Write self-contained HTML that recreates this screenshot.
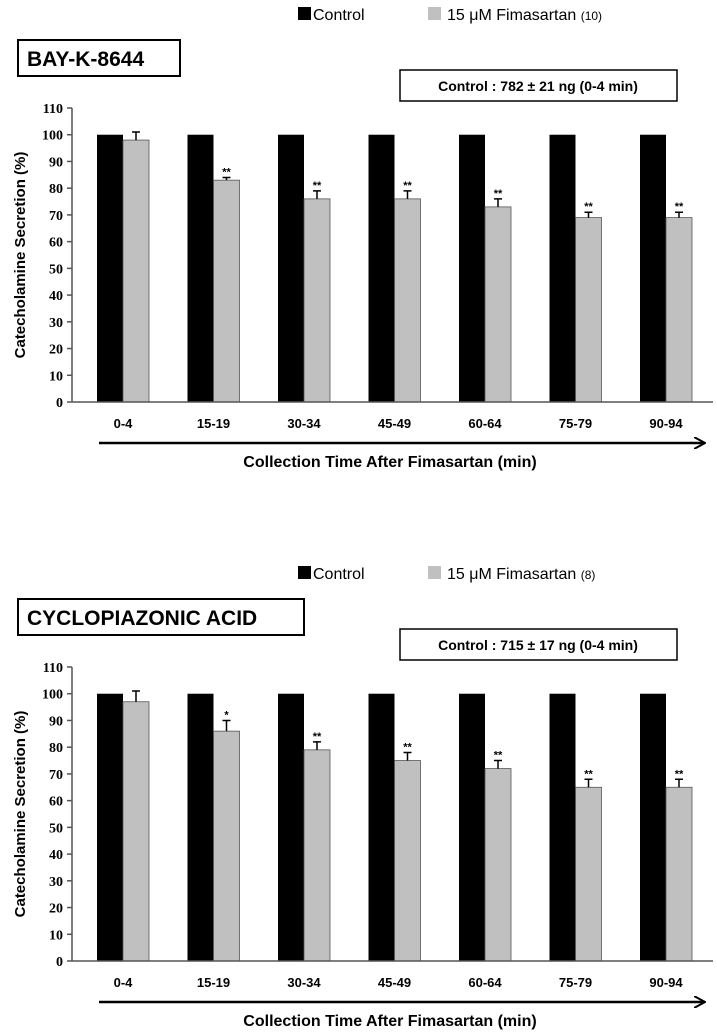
<!DOCTYPE html>
<html><head><meta charset="utf-8"><style>
html,body{margin:0;padding:0;background:#fff}
svg{display:block;font-family:"Liberation Sans",Arial,sans-serif}
</style></head><body>
<svg id="chart" width="717" height="1035" viewBox="0 0 717 1035">
<defs><marker id="arr" markerWidth="12" markerHeight="12" refX="10" refY="6" orient="auto" markerUnits="userSpaceOnUse"><path d="M0,0 L11,6 L0,12" fill="none" stroke="#000" stroke-width="2"/></marker></defs>
</svg>
<script>
const categories=["0-4","15-19","30-34","45-49","60-64","75-79","90-94"];
const controlTop=[100,100,100,100,100,100,100];
const fimaTop=[98,83,76,76,73,69,69];
const errTop=[3,1,3,3,3,2,2];
const starsTop=["","**","**","**","**","**","**"];
const controlBot=[100,100,100,100,100,100,100];
const fimaBot=[97,86,79,75,72,65,65];
const errBot=[4,4,3,3,3,3,3];
const starsBot=["","*","**","**","**","**","**"];
const yTicks=[0,10,20,30,40,50,60,70,80,90,100,110];

const svg=document.getElementById('chart');
const NS='http://www.w3.org/2000/svg';
function mk(tag,attrs,parent,text){const e=document.createElementNS(NS,tag);for(const k in attrs)e.setAttribute(k,attrs[k]);if(text!==undefined)e.textContent=text;(parent||svg).appendChild(e);return e;}

function panel(off,title,n,ctrlText,ctrl,fima,err,stars,pname){
  const g=mk('g',{});
  
  
  const y=v=>off+402-v*(294/110);
  const x0=97,step=90.5,bw=26;
  const lg=mk('g',{},g);
  
  
  const r1=mk('rect',{x:298,y:off+7,width:13,height:13,fill:'#000'},lg);
  
  
  const t1=mk('text',{x:313,y:off+20,'font-size':16},lg,'Control');
  
  
  const r2=mk('rect',{x:428,y:off+7,width:13,height:13,fill:'#c0c0c0'},lg);
  
  
  const t2=mk('text',{x:447,y:off+20,'font-size':16},lg,'15 μM Fimasartan ');
  
  
  mk('tspan',{'font-size':12},t2,'('+n+')');
  const tb=mk('rect',{x:18,y:off+40,width:title.length>12?286:162,height:36,fill:'#fff',stroke:'#000','stroke-width':2},g);
  
  
  const tt=mk('text',{x:27,y:off+66,'font-size':21,'font-weight':'bold'},g,title);
  
  
  const cb=mk('rect',{x:400,y:off+70,width:277,height:31,fill:'#fff',stroke:'#000','stroke-width':1.5},g);
  
  
  const ct=mk('text',{x:538,y:off+91,'font-size':14,'font-weight':'bold','text-anchor':'middle'},g,ctrlText);
  
  
  const ya=mk('line',{x1:72,y1:y(110),x2:72,y2:y(0),stroke:'#555','stroke-width':1.5},g);
  
  
  yTicks.forEach(v=>{
    mk('line',{x1:67,y1:y(v),x2:72,y2:y(v),stroke:'#555','stroke-width':1.5},g);
    const tl=mk('text',{x:63,y:y(v)+5,'font-size':14,'font-weight':'bold','text-anchor':'end','font-family':'Liberation Serif, serif'},g,String(v));
    
    
  });
  const yt=mk('text',{transform:`translate(25,${off+255}) rotate(-90)`,'font-size':15,'font-weight':'bold','text-anchor':'middle'},g,'Catecholamine Secretion (%)');
  
  
  categories.forEach((c,i)=>{
    const bx=x0+i*step;
    const b1=mk('rect',{x:bx,y:y(ctrl[i]),width:bw,height:y(0)-y(ctrl[i]),fill:'#000'},g);
    
    
    const b2=mk('rect',{x:bx+bw,y:y(fima[i]),width:bw,height:y(0)-y(fima[i]),fill:'#c0c0c0',stroke:'#555','stroke-width':0.8},g);
    
    
    const cx=bx+bw*1.5, top=y(fima[i]+err[i]);
    const eb=mk('path',{d:`M${cx},${y(fima[i])} V${top} M${cx-4},${top} H${cx+4}`,stroke:'#000','stroke-width':1.5,fill:'none'},g);
    
    
    if(stars[i]){
      const s=mk('text',{x:cx,y:top-2,'font-size':11,'font-weight':'bold','text-anchor':'middle'},g,stars[i]);
      
      
    }
    const cl=mk('text',{x:cx-bw/2,y:off+428,'font-size':13,'font-weight':'bold','text-anchor':'middle','font-family':'Liberation Sans Narrow, Liberation Sans, sans-serif'},g,c);
    
    
  });
  const xa=mk('line',{x1:72,y1:y(0),x2:713,y2:y(0),stroke:'#555','stroke-width':1.5},g);
  
  
  const ar=mk('line',{x1:99,y1:off+443,x2:704,y2:off+443,stroke:'#000','stroke-width':2.5,'marker-end':'url(#arr)'},g);
  
  
  const xt=mk('text',{x:390,y:off+467,'font-size':16,'font-weight':'bold','text-anchor':'middle'},g,'Collection Time After Fimasartan (min)');
  
  
}
panel(0,'BAY-K-8644',10,'Control : 782 ± 21 ng (0-4 min)',controlTop,fimaTop,errTop,starsTop,'panel-bay-k-8644');
panel(559,'CYCLOPIAZONIC ACID',8,'Control : 715 ± 17 ng (0-4 min)',controlBot,fimaBot,errBot,starsBot,'panel-cyclopiazonic-acid');
</script>
</body></html>
